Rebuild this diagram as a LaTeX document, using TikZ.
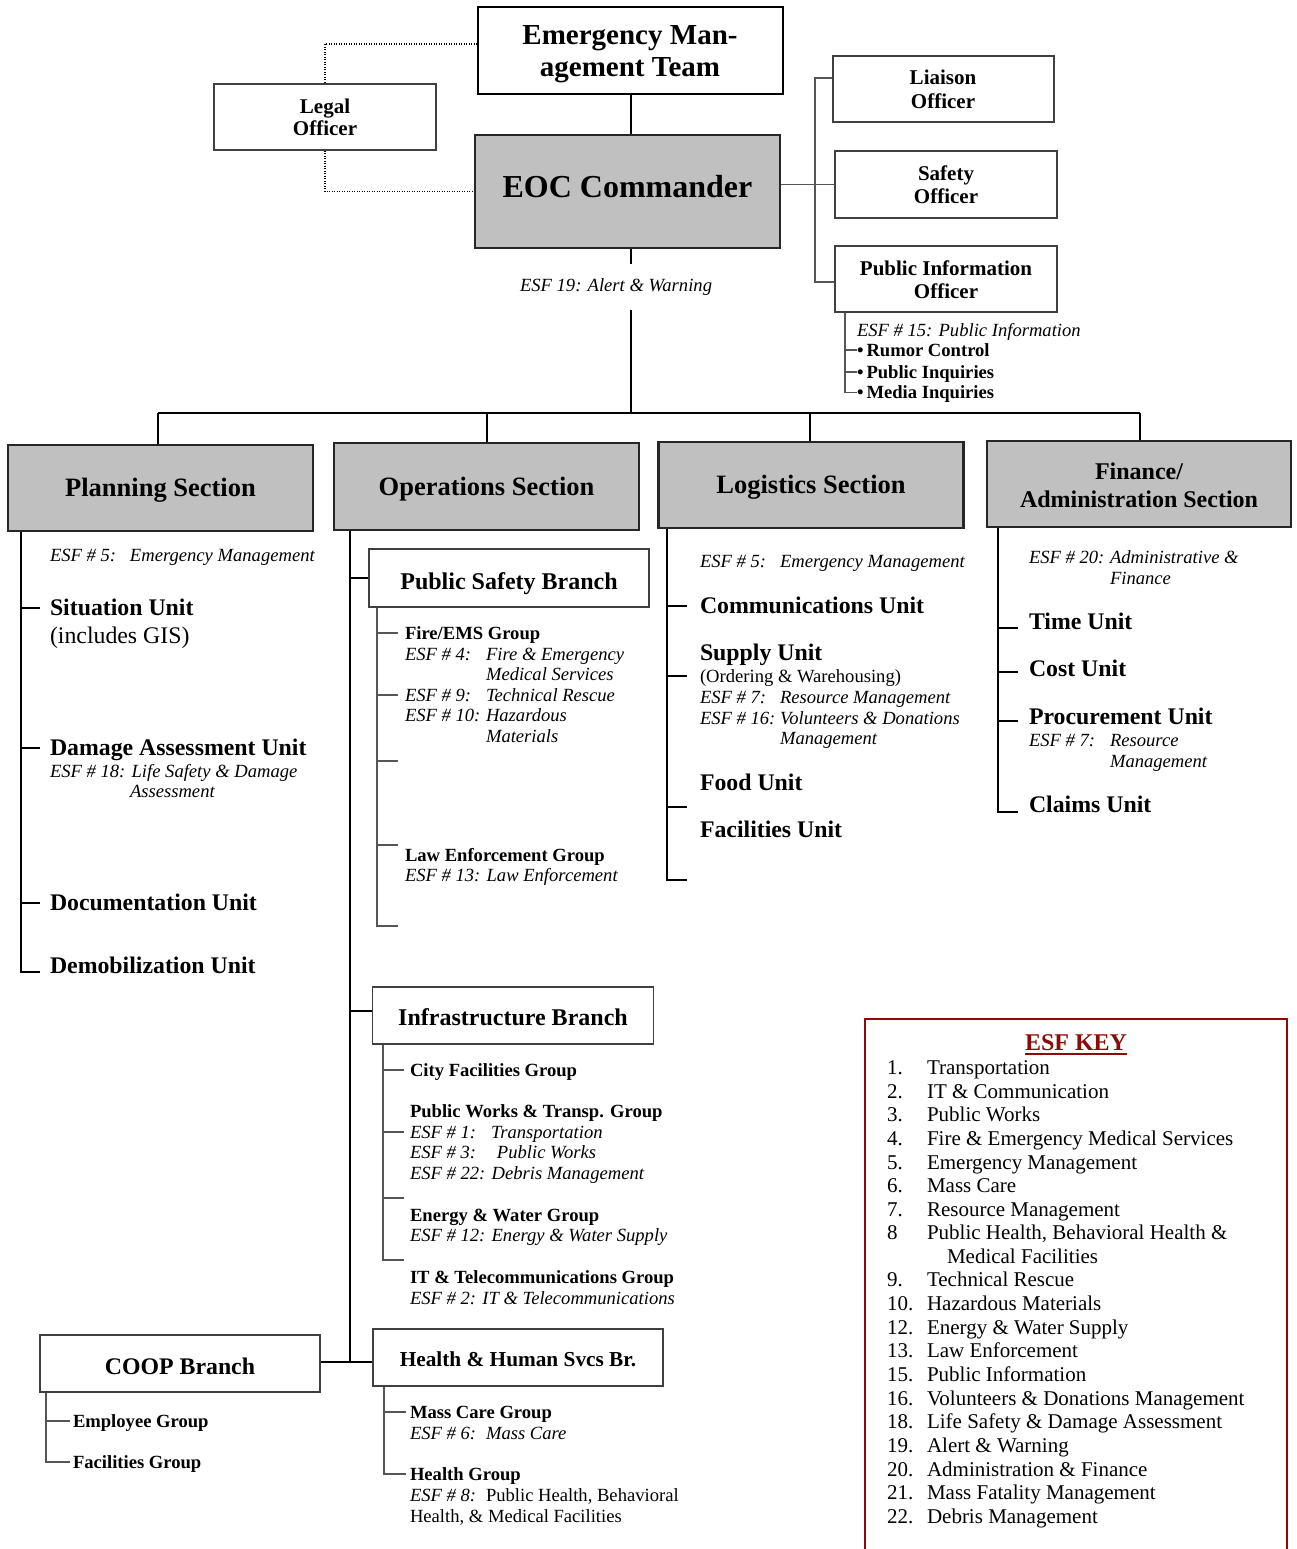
\documentclass[tikz,border=0pt]{standalone}
\usepackage{fontspec}
\setmainfont{Liberation Serif}
\newcommand\fsS{\fontsize{18.6pt}{20.5pt}\selectfont}
\newcommand\fsM{\fontsize{21pt}{24pt}\selectfont}
\newcommand\fsH{\fontsize{21.3pt}{24pt}\selectfont}
\newcommand\fsU{\fontsize{23.8pt}{27pt}\selectfont}
\newcommand\fsB{\fontsize{24pt}{27pt}\selectfont}
\newcommand\fsSec{\fontsize{26.5pt}{30pt}\selectfont}
\newcommand\fsE{\fontsize{29pt}{32pt}\selectfont}
\newcommand\fsF{\fontsize{32pt}{36pt}\selectfont}
\definecolor{boxgray}{HTML}{C0C0C0}
\definecolor{linegray}{HTML}{555555}
\definecolor{keyred}{HTML}{8B0A0A}
\tikzset{
  txt/.style={inner sep=0pt, outer sep=0pt, text depth=0pt},
  gS/.style={txt, anchor=west, font=\fsS\bfseries, text height=12.3pt},
  iS/.style={txt, anchor=west, font=\fsS\itshape, text height=12.3pt},
  rS/.style={txt, anchor=west, font=\fsS, text height=12.3pt},
  uB/.style={txt, anchor=west, font=\fsU\bfseries, text height=15.7pt},
  uR/.style={txt, anchor=west, font=\fsU, text height=15.7pt},
  kR/.style={txt, anchor=west, font=\fsM, text height=13.9pt},
  cM/.style={txt, font=\fsM\bfseries, text height=13.9pt},
  cE/.style={txt, font=\fsE\bfseries, text height=19.1pt},
  cFin/.style={txt, font=\fsB\bfseries, text height=15.8pt},
  secbox/.style={draw=black!85, line width=2.2pt, fill=boxgray, inner sep=0pt, font=\fsSec\bfseries, text height=17.5pt, text depth=0pt},
  plainbox/.style={draw=black, line width=1.6pt, fill=white, inner sep=0pt},
  brbox/.style={draw=black!75, line width=1.2pt, fill=white, inner sep=0pt, font=\fsB\bfseries, text depth=0pt},
  offbox/.style={draw=black!75, line width=1.2pt, fill=white, inner sep=0pt},
  main/.style={line width=2pt, black},
  gline/.style={line width=1.3pt, linegray},
  dotline/.style={line width=1.2pt, dash pattern=on 1.2pt off 1.3pt, black},
}
\begin{document}
\begin{tikzpicture}[x=1pt,y=-1pt]
\useasboundingbox (0,0) rectangle (1296,1549);

% ---------- top ----------
\node[plainbox, minimum width=305, minimum height=87] (emt) at (630.5,50.5) {};
\node[cE] (emt1) at (630,35) {Emergency Man-};
\node[cE] (emt2) at (630,67) {agement Team};

\node[secbox, line width=2pt, minimum width=305, minimum height=113, font=\fsF\bfseries, text height=21.1pt, text depth=9pt] (eoc) at (627.5,191.5) {EOC Commander};

\node[offbox, minimum width=222, minimum height=66] (legal) at (325,117) {};
\node[cM] (legal1) at (325,106.5) {Legal};
\node[cM] (legal2) at (325,128.5) {Officer};

\node[offbox, minimum width=221, minimum height=66] (lia) at (943.5,89) {};
\node[cM] (lia1) at (943,77.7) {Liaison};
\node[cM] (lia2) at (943,101.7) {Officer};

\node[offbox, minimum width=222, minimum height=67] (saf) at (946,184.5) {};
\node[cM] (saf1) at (946,173.3) {Safety};
\node[cM] (saf2) at (946,196.7) {Officer};

\node[offbox, minimum width=222, minimum height=66] (pio) at (946,279) {};
\node[cM] (pio1) at (946,268.7) {Public Information};
\node[cM] (pio2) at (946,292) {Officer};

\node[iS] (esf19) at (520,285) {ESF 19: Alert \& Warning};

\node[iS] (e15) at (857,330) {ESF \# 15: Public Information};
\node[gS] (rumor) at (857,350) {\textbullet\hspace{3pt}Rumor Control};
\node[gS] (pinq) at (857,372) {\textbullet\hspace{3pt}Public Inquiries};
\node[gS] (minq) at (857,392.5) {\textbullet\hspace{3pt}Media Inquiries};

% top connectors
\coordinate (eocx) at (631,0);
\coordinate (eocmid) at (631,310);
\coordinate (barC) at (631,413);
\coordinate (barL) at (158,413);
\coordinate (barR) at (1140,413);
\coordinate (dOps) at (487,413);
\coordinate (dLog) at (810,413);
\draw[main] (emt.south -| eocx) -- (eoc.north -| eocx);
\draw[main] (eoc.south -| eocx) -- ++(0,15);
\draw[main] (eocmid) -- (barC);
\draw[dotline] ([yshift=6.5pt]emt.west) -| (legal.north);
\draw[dotline] (legal.south) |- (eoc.west);

\coordinate (offv) at (815,0);
\coordinate (liastub) at ([yshift=11pt]lia.west);
\coordinate (piostub) at ([yshift=-3pt]pio.west);
\draw[gline] (liastub) -| (offv |- piostub) -- (piostub);
\draw[gline] (eoc.east |- saf.west) -- (saf.west);
\coordinate (piov) at (845,0);
\draw[gline] (piov |- pio.south) -- (piov |- minq.west) -- (minq.west);
\draw[gline] (piov |- rumor.west) -- (rumor.west);
\draw[gline] (piov |- pinq.west) -- (pinq.west);

% ---------- sections ----------
\node[secbox, minimum width=305, minimum height=86] (plan) at (160.5,488) {Planning Section};
\node[secbox, minimum width=305, minimum height=87] (ops) at (486.5,486.5) {Operations Section};
\node[secbox, minimum width=305, minimum height=86] (log) at (811,485) {Logistics Section};
\node[secbox, minimum width=304.5, minimum height=86.3] (fin) at (1139,484) {};
\node[cFin] (fin1) at (1139,472) {Finance/};
\node[cFin] (fin2) at (1139,500) {Administration Section};

\draw[main] (barL) -- (barR);
\draw[main] (barL) -- (barL |- plan.north);
\draw[main] (dOps) -- (dOps |- ops.north);
\draw[main] (dLog) -- (dLog |- log.north);
\draw[main] (barR) -- (barR |- fin.north);

% ---------- planning ----------
\node[iS] (p5) at (50,555) {\makebox[80pt][l]{ESF \# 5:}Emergency Management};
\node[uB] (sit) at (50,608) {Situation Unit};
\node[uR] (gis) at (50,636) {(includes GIS)};
\node[uB] (dam) at (50,748) {Damage Assessment Unit};
\node[iS] (p18) at (50,771) {ESF \# 18: Life Safety \& Damage};
\node[iS] (p18b) at (130,791) {Assessment};
\node[uB] (doc) at (50,903) {Documentation Unit};
\node[uB] (demob) at (50,966) {Demobilization Unit};
\coordinate (pv) at (21,0);
\coordinate (pend) at (21,972);
\draw[main] (pv |- plan.south) -- (pend) -- ++(19,0);
\draw[main] (pv |- sit.west) -- ++(19,0);
\draw[main] (pv |- dam.west) -- ++(19,0);
\draw[main] (pv |- doc.west) -- ++(19,0);

% ---------- operations ----------
\coordinate (ov) at (350,0);
\coordinate (ojoin) at (350,1362);
\draw[main] (ov |- ops.south) -- (ojoin);

\node[brbox, minimum width=280, minimum height=58, text height=23.8pt] (psb) at (509,578) {Public Safety Branch};
\draw[main] (ov |- psb.west) -- (psb.west);
\node[gS] (fire) at (405,633) {Fire/EMS Group};
\node[iS] (e4) at (405,654) {\makebox[81pt][l]{ESF \# 4:}Fire \& Emergency};
\node[iS] (e4b) at (486,674) {Medical Services};
\node[iS] (e9) at (405,695) {\makebox[81pt][l]{ESF \# 9:}Technical Rescue};
\node[iS] (e10) at (405,715) {\makebox[81pt][l]{ESF \# 10:}Hazardous};
\node[iS] (e10b) at (486,736) {Materials};
\node[gS] (law) at (405,855) {Law Enforcement Group};
\node[iS] (e13) at (405,875) {ESF \# 13: Law Enforcement};
\coordinate (psv) at (377,0);
\coordinate (psend) at (377,926);
\coordinate (ps3) at (377,761);
\coordinate (ps4) at (377,845);
\draw[gline] (psv |- psb.south) -- (psend) -- ++(21,0);
\draw[gline] (psv |- fire.west) -- ++(21,0);
\draw[gline] (psv |- e9.west) -- ++(21,0);
\draw[gline] (ps3) -- ++(21,0);
\draw[gline] (ps4) -- ++(21,0);

\node[brbox, minimum width=281, minimum height=57, text height=19.8pt] (infra) at (513,1015.5) {Infrastructure Branch};
\coordinate (infrastub) at ([yshift=4.5pt]infra.west);
\draw[main] (ov |- infrastub) -- (infrastub);
\node[gS] (city) at (410,1070) {City Facilities Group};
\node[gS] (pw) at (410,1111) {Public Works \& Transp. Group};
\node[iS] (e1) at (410,1132) {\makebox[81pt][l]{ESF \# 1:}Transportation};
\node[iS] (e3) at (410,1152) {\makebox[87pt][l]{ESF \# 3:}Public Works};
\node[iS] (e22) at (410,1173) {ESF \# 22: Debris Management};
\node[gS] (ew) at (410,1215) {Energy \& Water Group};
\node[iS] (e12) at (410,1235) {ESF \# 12: Energy \& Water Supply};
\node[gS] (itg) at (410,1277) {IT \& Telecommunications Group};
\node[iS] (e2) at (410,1298) {ESF \# 2: IT \& Telecommunications};
\coordinate (isv) at (383,0);
\coordinate (isend) at (383,1260);
\coordinate (is3) at (383,1198);
\draw[gline] (isv |- infra.south) -- (isend) -- ++(21,0);
\draw[gline] (isv |- city.west) -- ++(21,0);
\draw[gline] (isv |- e1.west) -- ++(21,0);
\draw[gline] (is3) -- ++(21,0);

\node[brbox, minimum width=290, minimum height=57, font=\fsH\bfseries, text height=17.1pt] (hhs) at (518,1357.5) {Health \& Human Svcs Br.};
\node[brbox, minimum width=280, minimum height=57, font=\fsU\bfseries, text height=22.7pt] (coop) at (180,1363.5) {COOP Branch};
\draw[main] (coop.east |- ojoin) -- (hhs.west |- ojoin);

\node[gS] (mass) at (410,1412) {Mass Care Group};
\node[iS] (e6) at (410,1433) {\makebox[76pt][l]{ESF \# 6:}Mass Care};
\node[gS] (hg) at (410,1474) {Health Group};
\node[rS] (e8) at (410,1495) {\makebox[76pt][l]{\itshape ESF \# 8:}Public Health, Behavioral};
\node[rS] (e8b) at (410,1516) {Health, \& Medical Facilities};
\coordinate (hsv) at (384,0);
\draw[gline] (hsv |- hhs.south) -- (hsv |- hg.west) -- ++(22,0);
\draw[gline] (hsv |- mass.west) -- ++(22,0);

\node[gS] (emp) at (73,1421) {Employee Group};
\node[gS] (fac) at (73,1462) {Facilities Group};
\coordinate (csv) at (46,0);
\draw[gline] (csv |- coop.south) -- (csv |- fac.west) -- ++(24,0);
\draw[gline] (csv |- emp.west) -- ++(24,0);

% ---------- logistics ----------
\node[iS] (l5) at (700,561) {\makebox[80pt][l]{ESF \# 5:}Emergency Management};
\node[uB] (comm) at (700,606) {Communications Unit};
\node[uB] (sup) at (700,653) {Supply Unit};
\node[rS] (ord) at (700,676) {(Ordering \& Warehousing)};
\node[iS] (l7) at (700,697) {\makebox[80pt][l]{ESF \# 7:}Resource Management};
\node[iS] (l16) at (700,718) {\makebox[80pt][l]{ESF \# 16:}Volunteers \& Donations};
\node[iS] (l16b) at (780,738) {Management};
\node[uB] (food) at (700,783) {Food Unit};
\node[uB] (facu) at (700,830) {Facilities Unit};
\coordinate (lv) at (667,0);
\coordinate (lend) at (667,880);
\coordinate (l3) at (667,807);
\draw[main] (lv |- log.south) -- (lend) -- ++(20,0);
\draw[main] (lv |- comm.west) -- ++(20,0);
\draw[main] (lv |- ord.west) -- ++(20,0);
\draw[main] (l3) -- ++(20,0);

% ---------- finance ----------
\node[iS] (f20) at (1029,557) {\makebox[81pt][l]{ESF \# 20:}Administrative \&};
\node[iS] (f20b) at (1110,578) {Finance};
\node[uB] (time) at (1029,622) {Time Unit};
\node[uB] (cost) at (1029,669) {Cost Unit};
\node[uB] (proc) at (1029,717) {Procurement Unit};
\node[iS] (f7) at (1029,740) {\makebox[81pt][l]{ESF \# 7:}Resource};
\node[iS] (f7b) at (1110,761) {Management};
\node[uB] (claims) at (1029,805) {Claims Unit};
\coordinate (fv) at (998,0);
\coordinate (fend) at (998,812);
\coordinate (f1) at (998,628);
\coordinate (f2) at (998,672);
\coordinate (f3) at (998,721);
\draw[main] (fv |- fin.south) -- (fend) -- ++(20,0);
\draw[main] (f1) -- ++(20,0);
\draw[main] (f2) -- ++(20,0);
\draw[main] (f3) -- ++(20,0);

% ---------- ESF key ----------
\draw[keyred, line width=2pt] (865,1555) -- (865,1018.6) -- (1286.5,1018.6) -- (1286.5,1555);
\node[txt, font=\fsB\bfseries, text height=15.8pt, text=keyred] (esfkey) at (1076,1042.7) {ESF KEY};
\draw[keyred, line width=2pt] ([yshift=-3.5pt]esfkey.south west) -- ([yshift=-3.5pt]esfkey.south east);
\foreach \n/\t/\y [count=\i] in {
  1./Transportation/1067.8,
  2./{IT \& Communication}/1091.5,
  3./Public Works/1114.8,
  4./{Fire \& Emergency Medical Services}/1138.2,
  5./Emergency Management/1162.3,
  6./Mass Care/1186,
  7./Resource Management/1209.4,
  8/{Public Health, Behavioral Health \&}/1232.8,
  9./Technical Rescue/1279.9,
  10./Hazardous Materials/1303.9,
  12./{Energy \& Water Supply}/1327.3,
  13./Law Enforcement/1351,
  15./Public Information/1375,
  16./{Volunteers \& Donations Management}/1398.4,
  18./{Life Safety \& Damage Assessment}/1421.8,
  19./{Alert \& Warning}/1445.9,
  20./{Administration \& Finance}/1469.3,
  21./Mass Fatality Management/1493,
  22./Debris Management/1517}
{
  \node[kR] (kn\i) at (887,\y) {\n};
  \node[kR] (kt\i) at (927,\y) {\t};
}
\node[kR] (kt8b) at (947,1256.8) {Medical Facilities};
\end{tikzpicture}
\end{document}
